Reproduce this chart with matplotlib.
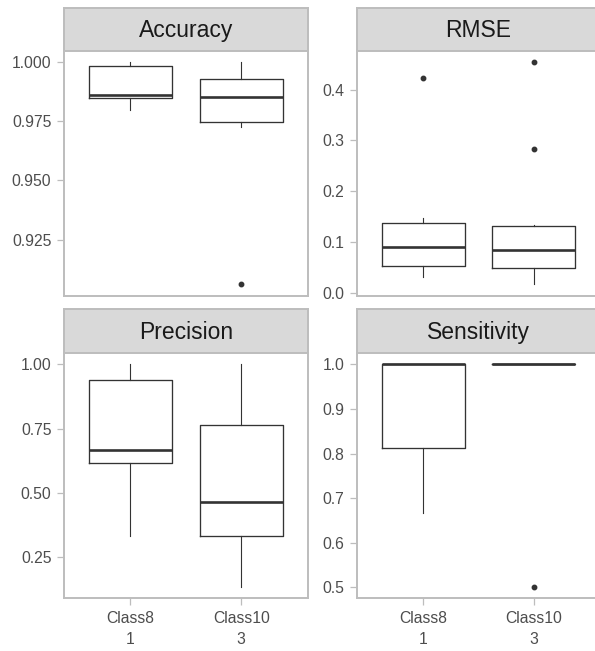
import matplotlib
matplotlib.use("Agg")
import matplotlib.pyplot as plt
from matplotlib.ticker import FormatStrFormatter

plt.rcParams['font.family'] = ['Liberation Sans', 'DejaVu Sans']

# ---- data ----
metrics = ["Accuracy", "RMSE", "Precision", "Sensitivity"]
categories = ["Class8\n1", "Class10\n3"]

acc_q1 = [0.9848, 0.9744]
acc_med = [0.9860, 0.9850]
acc_q3 = [0.9980, 0.9926]
acc_lo = [0.9794, 0.9723]
acc_hi = [1.0000, 1.0000]
acc_out = [[], [0.9061]]

rmse_q1 = [0.054, 0.0485]
rmse_med = [0.090, 0.085]
rmse_q3 = [0.137, 0.132]
rmse_lo = [0.032, 0.017]
rmse_hi = [0.147, 0.134]
rmse_out = [[0.423], [0.455, 0.283]]

prec_q1 = [0.615, 0.3333]
prec_med = [0.6667, 0.4637]
prec_q3 = [0.938, 0.765]
prec_lo = [0.3333, 0.1333]
prec_hi = [1.0, 1.0]
prec_out = [[], []]

sens_q1 = [0.8125, 1.0]
sens_med = [1.0, 1.0]
sens_q3 = [1.0, 1.0]
sens_lo = [0.6667, 1.0]
sens_hi = [1.0, 1.0]
sens_out = [[], [0.5]]

yticks = {
    "Accuracy": [0.925, 0.950, 0.975, 1.000],
    "RMSE": [0.0, 0.1, 0.2, 0.3, 0.4],
    "Precision": [0.25, 0.50, 0.75, 1.00],
    "Sensitivity": [0.5, 0.6, 0.7, 0.8, 0.9, 1.0],
}
yfmt = {"Accuracy": "%.3f", "RMSE": "%.1f", "Precision": "%.2f", "Sensitivity": "%.1f"}

series = {
    "Accuracy": (acc_q1, acc_med, acc_q3, acc_lo, acc_hi, acc_out),
    "RMSE": (rmse_q1, rmse_med, rmse_q3, rmse_lo, rmse_hi, rmse_out),
    "Precision": (prec_q1, prec_med, prec_q3, prec_lo, prec_hi, prec_out),
    "Sensitivity": (sens_q1, sens_med, sens_q3, sens_lo, sens_hi, sens_out),
}

# ---- layout (pixels) ----
W, H = 595, 651
fig = plt.figure(figsize=(W / 100, H / 100), dpi=100)

cols = [(64.0, 307.7), (356.7, 600.3)]
rows = [((7.5, 50.5), (50.5, 295.5)), ((309.3, 353.3), (353.3, 598.3))]

BORDER = "#bdbdbd"
BOXC = "#333333"

def px_axes(x0, x1, y0, y1):
    return fig.add_axes([x0 / W, 1 - y1 / H, (x1 - x0) / W, (y1 - y0) / H])

for i, m in enumerate(metrics):
    r, c = divmod(i, 2)
    (sy0, sy1), (py0, py1) = rows[r]
    x0, x1 = cols[c]

    # strip
    sax = px_axes(x0, x1, sy0, sy1)
    sax.set_facecolor("#d9d9d9")
    sax.set_xticks([]); sax.set_yticks([])
    for s in sax.spines.values():
        s.set_color(BORDER); s.set_linewidth(1.4)
    sax.text(0.5, 0.47, m, ha="center", va="center", fontsize=16.5,
             color="#1a1a1a", transform=sax.transAxes)

    # panel
    ax = px_axes(x0, x1, py0, py1)
    q1, med, q3, lo, hi, out = series[m]
    stats = []
    for k in range(len(categories)):
        stats.append(dict(med=med[k], q1=q1[k], q3=q3[k], whislo=lo[k],
                          whishi=hi[k], fliers=out[k]))
    ax.bxp(stats, positions=[1, 2], widths=0.75, showcaps=False,
           boxprops=dict(color=BOXC, linewidth=0.95),
           whiskerprops=dict(color=BOXC, linewidth=0.8),
           medianprops=dict(color=BOXC, linewidth=1.9),
           flierprops=dict(marker="o", markerfacecolor=BOXC, markeredgecolor=BOXC,
                           markersize=3.2, linestyle="none"))
    allv = list(lo) + list(hi) + [v for o in out for v in o]
    vmin, vmax = min(allv), max(allv)
    pad = 0.05 * (vmax - vmin)
    ax.set_ylim(vmin - pad, vmax + pad)
    ax.set_xlim(0.4, 2.6)
    ax.set_yticks(yticks[m])
    ax.yaxis.set_major_formatter(FormatStrFormatter(yfmt[m]))
    ax.set_xticks([1, 2])
    if r == 1:
        ax.set_xticklabels(categories, multialignment="center", linespacing=1.55)
    else:
        ax.set_xticklabels([])
    ax.tick_params(axis="both", colors=BORDER, labelcolor="#4d4d4d",
                   labelsize=11.3, length=5, width=0.9, pad=4)
    for s in ax.spines.values():
        s.set_color(BORDER); s.set_linewidth(1.4)
    ax.set_facecolor("white")
    if r == 0:
        ax.tick_params(axis="x", length=0)

fig.savefig("out.png", dpi=100)
